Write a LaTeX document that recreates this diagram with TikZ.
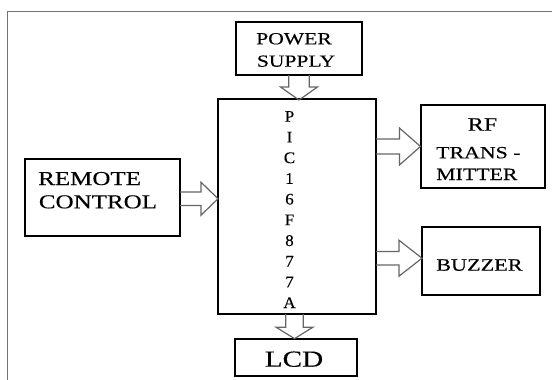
\documentclass[tikz,border=0pt]{standalone}
\usepackage{fontspec}
\setmainfont{Liberation Serif}[FakeStretch=1.27,FakeBold=0.25]
\newfontfamily\picfont{Liberation Serif}[FakeStretch=1.05,FakeBold=0.25]
\usetikzlibrary{calc}
\tikzset{
  box/.style={draw=black, line width=2pt, inner sep=0pt, outer sep=0pt},
  barr/.style={draw=black!60, line width=1.2pt, line join=miter},
  lbl/.style={inner sep=0pt, anchor=base},
  lbll/.style={inner sep=0pt, anchor=base west},
  frameline/.style={draw=black!55, line width=1pt},
}
\newcommand\myfs[1]{\fontsize{#1}{#1}\selectfont}
% horizontal block arrow: start, tip, shaft half width, head half width, head length
\newcommand\hblock[5]{\draw[barr] ($(#1)+(0,#3)$) -- ($(#2)+(-#5,#3)$) -- ($(#2)+(-#5,#4)$) -- (#2) -- ($(#2)+(-#5,-#4)$) -- ($(#2)+(-#5,-#3)$) -- ($(#1)+(0,-#3)$);}
% vertical (downward) block arrow
\newcommand\vblock[5]{\draw[barr] ($(#1)+(#3,0)$) -- ($(#2)+(#3,-#5)$) -- ($(#2)+(#4,-#5)$) -- (#2) -- ($(#2)+(-#4,-#5)$) -- ($(#2)+(-#3,-#5)$) -- ($(#1)+(-#3,0)$);}
\begin{document}
\begin{tikzpicture}[x=1pt,y=-1pt]
\useasboundingbox (0,0) rectangle (552,380);
\fill[white] (0,0) rectangle (552,380);
% frame
\draw[frameline] (7.7,380) -- (7.7,11.5) -- (552,11.5);
% boxes
\node[box, minimum width=126pt, minimum height=53pt] (power) at (299,48.5) {};
\node[box, minimum width=158pt, minimum height=215pt] (pic) at (297,206.5) {};
\node[box, minimum width=124.5pt, minimum height=83pt] (rf) at (483.2,146.5) {};
\node[box, minimum width=155pt, minimum height=76.7pt] (remote) at (102.5,197.7) {};
\node[box, minimum width=118.5pt, minimum height=68.5pt] (buzzer) at (481.2,261.2) {};
\node[box, minimum width=122pt, minimum height=37.3pt] (lcd) at (296,357.3) {};
% arrow end points
\coordinate (pwS) at (power.south);
\coordinate (pwT) at ($(power.south |- pic.north)+(0,1)$);
\coordinate (reS) at ($(remote.east)+(0,1)$);
\coordinate (reT) at ($(remote.east -| pic.west)+(0,1)$);
\coordinate (rfS) at (rf.west -| pic.east);
\coordinate (rfT) at ($(rf.west)+(-0.5,0)$);
\coordinate (buS) at ($(buzzer.west -| pic.east)+(0,-3)$);
\coordinate (buT) at ($(buzzer.west)+(0,-3)$);
\coordinate (lcS) at ($(lcd.north |- pic.south)+(-1.5,0)$);
\coordinate (lcT) at ($(lcd.north)+(-1.5,0)$);
% block arrows
\vblock{pwS}{pwT}{10.3}{18.5}{13}
\hblock{reS}{reT}{6.8}{16.5}{17}
\hblock{rfS}{rfT}{7.5}{18.5}{21}
\hblock{buS}{buT}{6.7}{18}{23}
\vblock{lcS}{lcT}{8.7}{18.5}{11.5}
% texts
\node[lbl] (pw1) at (294,44.3) {\myfs{17}POWER};
\node[lbl] (pw2) at (296,66.7) {\myfs{17}SUPPLY};
\node[lbll] (re1) at (38,185) {\myfs{19.7}REMOTE};
\node[lbll] (re2) at (38.7,208.3) {\myfs{19.7}CONTROL};
\node[lbl] (rf1) at (482.5,130.7) {\myfs{19}RF};
\node[lbll] (rf2) at (436,158.3) {\myfs{17.2}TRANS -};
\node[lbll] (rf3) at (436,180) {\myfs{17.2}MITTER};
\node[lbll] (bu1) at (436,270.7) {\myfs{17.5}BUZZER};
\node[lbl] (lc1) at (294,366.7) {\myfs{23}LCD};
\foreach \ch [count=\i from 0] in {P,I,C,1,6,F,8,7,7,A}
  \node[lbl] (pc\i) at (289.5,{121.7+20.7*\i}) {\picfont\myfs{16.2}\ch};
\end{tikzpicture}
\end{document}
